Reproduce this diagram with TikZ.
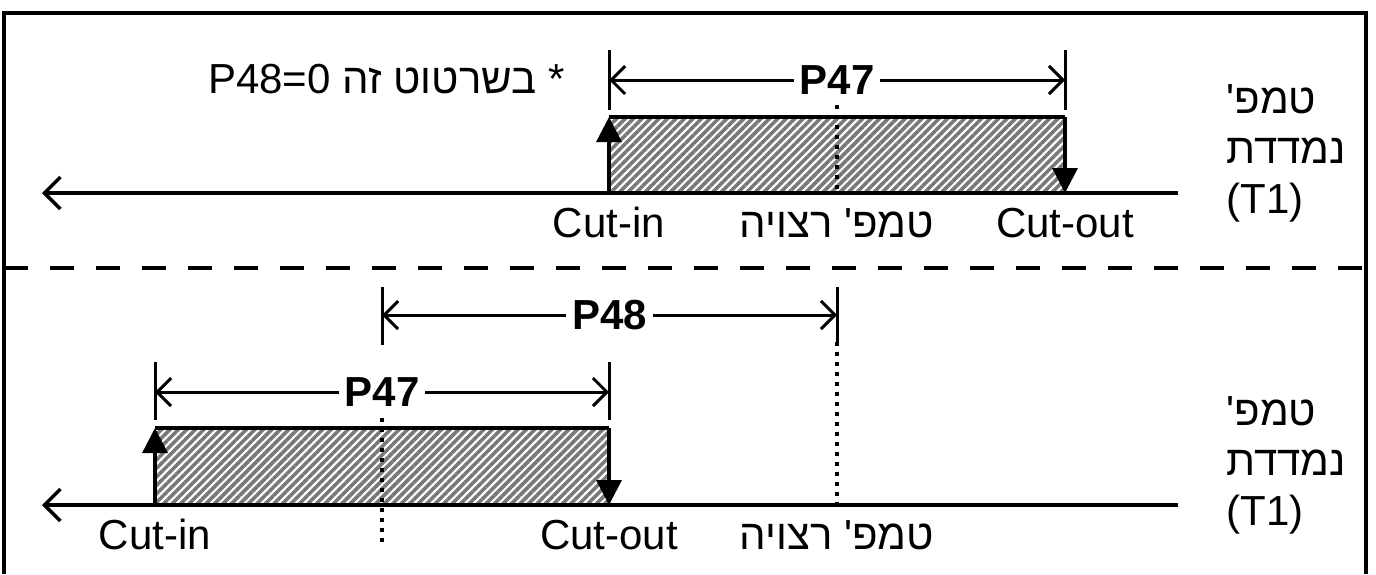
\documentclass[tikz,border=0pt]{standalone}
\usepackage{fontspec}
\setmainfont{Liberation Sans}
\newfontfamily\hebfont[Script=Hebrew,Ligatures=TeXOff]{Liberation Sans}
\TeXXeTstate=1
\usetikzlibrary{arrows.meta, patterns.meta}
\definecolor{bandgray}{gray}{0.47}

\begin{document}
\begin{tikzpicture}[x=0.5pt, y=-0.5pt,
    frame/.style={line width=2pt},
    divider/.style={line width=1.6pt, dash pattern=on 12pt off 11pt},
    axis/.style={line width=1.7pt, {Straight Barb[length=8pt,width=16pt]}-},
    dimline/.style={line width=1.5pt, {Straight Barb[length=7pt,width=14pt]}-{Straight Barb[length=7pt,width=14pt]}},
    extline/.style={line width=1.5pt},
    setpoint/.style={line width=1.6pt, dash pattern=on 2.2pt off 2.8pt},
    band/.style={pattern={Lines[angle=45,distance=3pt,line width=1.8pt]}, pattern color=bandgray},
    bandtop/.style={line width=1.7pt},
    switch/.style={line width=1.7pt, -{Triangle[length=12.5pt,width=12.5pt]}},
    lbl/.style={font=\fontsize{21}{26}\selectfont, inner sep=0pt},
    dimlbl/.style={font=\fontsize{21}{26}\selectfont\bfseries, fill=white, inner xsep=3pt, inner ysep=1pt}
  ]
  \useasboundingbox (0,0) rectangle (1376,574);

  % frame and divider
  \coordinate (fBL) at (4,574);
  \coordinate (fTL) at (4,13);
  \coordinate (fTR) at (1366,13);
  \coordinate (fBR) at (1366,574);
  \draw[frame] (fBL) -- (fTL) -- (fTR) -- (fBR);
  \coordinate (divL) at (4,268);
  \coordinate (divR) at (1366,268);
  \draw[divider] (divL) -- (divR);

  % ---------- top panel (P48 = 0) ----------
  \coordinate (axAL) at (42,193);
  \coordinate (axAR) at (1178,193);
  \coordinate (inA) at (609,193);
  \coordinate (inAt) at (609,117);
  \coordinate (outA) at (1065,193);
  \coordinate (outAt) at (1065,117);
  \coordinate (spA) at (837,193);
  \coordinate (spAt) at (837,105);

  % hatched on-band
  \fill[band] (inAt) rectangle (outA);
  \draw[setpoint] (spAt) -- (spA);
  \draw[bandtop] (inAt) -- (outAt);
  \draw[switch] (inA) -- (inAt);
  \draw[switch] (outAt) -- (outA);
  \draw[axis] (axAL) -- (axAR);

  % P47 dimension
  \coordinate (eA1t) at (609,50);
  \coordinate (eA1b) at (609,110);
  \coordinate (eA2t) at (1065,50);
  \coordinate (eA2b) at (1065,110);
  \draw[extline] (eA1t) -- (eA1b);
  \draw[extline] (eA2t) -- (eA2b);
  \coordinate (dA1) at (609,80);
  \coordinate (dA2) at (1065,80);
  \draw[dimline] (dA1) -- node[dimlbl] (p47A) {P47} (dA2);

  % labels
  \node[lbl, anchor=base] (cutinA) at (609,237) {Cut-in};
  \node[lbl, anchor=base] (wantA) at (837,237) {\hebfont\beginR טמפ' רצויה\endR};
  \node[lbl, anchor=base] (cutoutA) at (1065,237) {Cut-out};
  \node[lbl, anchor=base east] (note) at (565,93) {\hebfont\beginR * בשרטוט זה \beginL P48=0\endL\endR};
  \node[lbl, anchor=base west] (tA1) at (1226,113) {\hebfont\beginR טמפ'\endR};
  \node[lbl, anchor=base west] (tA2) at (1226,163) {\hebfont\beginR נמדדת\endR};
  \node[lbl, anchor=base west] (tA3) at (1226,213) {(T1)};

  % ---------- bottom panel ----------
  \coordinate (axBL) at (42,505);
  \coordinate (axBR) at (1178,505);
  \coordinate (inB) at (155,505);
  \coordinate (inBt) at (155,428);
  \coordinate (outB) at (609,505);
  \coordinate (outBt) at (609,428);
  \coordinate (spB) at (837,505);
  \coordinate (spBt) at (837,342);
  \coordinate (midBt) at (382,418);
  \coordinate (midBb) at (382,545);

  % hatched on-band
  \fill[band] (inBt) rectangle (outB);
  \draw[setpoint] (midBt) -- (midBb);
  \draw[setpoint] (spBt) -- (spB);
  \draw[bandtop] (inBt) -- (outBt);
  \draw[switch] (inB) -- (inBt);
  \draw[switch] (outBt) -- (outB);
  \draw[axis] (axBL) -- (axBR);

  % P48 dimension
  \coordinate (eB3t) at (382,287);
  \coordinate (eB3b) at (382,345);
  \coordinate (eB4t) at (837,287);
  \draw[extline] (eB3t) -- (eB3b);
  \draw[extline] (eB4t) -- (spBt);
  \coordinate (dB3) at (382,315);
  \coordinate (dB4) at (837,315);
  \draw[dimline] (dB3) -- node[dimlbl] (p48B) {P48} (dB4);

  % P47 dimension
  \coordinate (eB1t) at (155,362);
  \coordinate (eB1b) at (155,420);
  \coordinate (eB2t) at (609,362);
  \coordinate (eB2b) at (609,420);
  \draw[extline] (eB1t) -- (eB1b);
  \draw[extline] (eB2t) -- (eB2b);
  \coordinate (dB1) at (155,392);
  \coordinate (dB2) at (609,392);
  \draw[dimline] (dB1) -- node[dimlbl] (p47B) {P47} (dB2);

  % labels
  \node[lbl, anchor=base] (cutinB) at (155,549) {Cut-in};
  \node[lbl, anchor=base] (cutoutB) at (609,549) {Cut-out};
  \node[lbl, anchor=base] (wantB) at (837,549) {\hebfont\beginR טמפ' רצויה\endR};
  \node[lbl, anchor=base west] (tB1) at (1226,425) {\hebfont\beginR טמפ'\endR};
  \node[lbl, anchor=base west] (tB2) at (1226,475) {\hebfont\beginR נמדדת\endR};
  \node[lbl, anchor=base west] (tB3) at (1226,525) {(T1)};
\end{tikzpicture}
\end{document}
